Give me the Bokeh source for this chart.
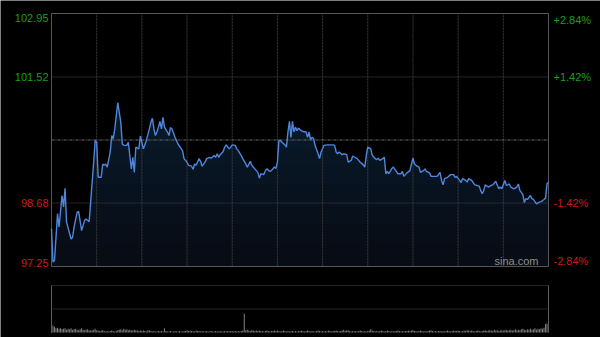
import numpy as np
from bokeh.plotting import figure
from bokeh.models import Range1d
from bokeh.embed import file_html
from bokeh.resources import INLINE
from bokeh.core.properties import value

# ---------------- data ----------------
minutes = [0, 1, 2, 4, 5, 7, 8, 9, 10, 13, 14, 15, 17, 18, 20, 22, 23, 25, 26, 28,
           29, 30, 31, 33, 34, 35, 36, 37, 39, 40, 41, 42, 44, 46, 47, 48, 50, 51, 52, 53,
           54, 55, 56, 58, 59, 61, 63, 65, 66, 67, 68, 69, 70, 71, 72, 73, 74, 75, 77, 78,
           79, 80, 82, 84, 87, 88, 90, 91, 93, 94, 95, 96, 98, 99, 100, 102, 103, 105, 106, 108,
           109, 110, 111, 112, 114, 115, 116, 118, 119, 120, 122, 123, 124, 126, 127, 129, 130, 132, 133, 135,
           137, 138, 139, 141, 142, 143, 145, 146, 148, 149, 150, 151, 152, 153, 155, 156, 157, 158, 159, 160,
           161, 162, 163, 164, 165, 166, 167, 169, 170, 171, 172, 173, 174, 175, 177, 178, 179, 181, 183, 187,
           188, 189, 190, 191, 193, 194, 196, 197, 199, 200, 202, 203, 205, 207, 208, 209, 210, 212, 213, 215,
           216, 217, 218, 220, 221, 222, 223, 224, 226, 227, 228, 230, 232, 233, 234, 236, 238, 239, 240, 241,
           242, 244, 245, 247, 248, 249, 251, 252, 256, 258, 259, 260, 261, 263, 265, 267, 268, 269, 271, 272,
           273, 275, 276, 277, 279, 281, 282, 284, 285, 286, 287, 288, 290, 292, 293, 295, 296, 297, 298, 299,
           301, 302, 303, 304, 305, 307, 309, 310, 311, 312, 313, 314, 315, 316, 318, 319, 320, 322, 324, 325,
           327, 328, 329, 330]

prices = [98.10, 97.35, 97.39, 98.44, 98.14, 98.85, 98.59, 99.01, 98.25, 97.87, 97.91, 98.14, 98.47, 98.49, 98.06, 98.29, 98.32, 98.26, 98.70, 99.60,
          100.09, 100.05, 99.26, 99.26, 99.56, 99.53, 99.56, 99.49, 99.83, 100.20, 100.13, 100.35, 100.94, 100.50, 100.01, 99.98, 99.98, 100.05, 99.75, 99.45,
          99.71, 99.37, 99.94, 99.90, 100.19, 99.90, 100.09, 100.35, 100.50, 100.59, 100.35, 100.20, 100.28, 100.39, 100.52, 100.35, 100.61, 100.39, 100.28, 100.20,
          100.38, 100.35, 100.16, 100.01, 99.86, 99.68, 99.60, 99.53, 99.51, 99.44, 99.56, 99.53, 99.68, 99.62, 99.51, 99.60, 99.68, 99.71, 99.69, 99.75,
          99.71, 99.79, 99.71, 99.77, 99.84, 99.94, 99.99, 99.90, 99.94, 99.99, 99.98, 99.90, 99.86, 99.75, 99.68, 99.56, 99.49, 99.62, 99.53, 99.45,
          99.37, 99.24, 99.34, 99.32, 99.41, 99.45, 99.39, 99.41, 99.49, 99.46, 99.60, 100.09, 100.09, 100.05, 99.99, 99.94, 100.28, 100.52, 100.16, 100.52,
          100.28, 100.39, 100.31, 100.37, 100.33, 100.31, 100.29, 100.28, 100.16, 100.28, 100.11, 100.16, 100.13, 99.98, 99.79, 99.68, 99.83, 99.98, 99.99, 99.99,
          99.98, 99.83, 99.79, 99.83, 99.77, 99.79, 99.77, 99.60, 99.64, 99.74, 99.70, 99.68, 99.60, 99.54, 99.49, 99.75, 99.94, 99.90, 99.75, 99.68,
          99.66, 99.69, 99.64, 99.68, 99.71, 99.34, 99.39, 99.34, 99.46, 99.49, 99.44, 99.34, 99.34, 99.39, 99.28, 99.36, 99.41, 99.56, 99.69, 99.56,
          99.53, 99.49, 99.37, 99.41, 99.45, 99.39, 99.36, 99.28, 99.28, 99.37, 99.19, 99.09, 99.23, 99.26, 99.32, 99.32, 99.26, 99.28, 99.19, 99.14,
          99.23, 99.19, 99.15, 99.23, 99.19, 99.09, 99.08, 99.06, 98.96, 98.89, 98.96, 99.09, 99.04, 99.08, 99.09, 99.17, 99.08, 99.00, 99.04, 99.00,
          99.19, 99.08, 99.09, 99.11, 99.04, 99.00, 99.04, 99.11, 98.96, 98.92, 98.87, 98.69, 98.78, 98.76, 98.85, 98.78, 98.76, 98.66, 98.70, 98.71,
          98.76, 98.79, 99.11, 99.15]

volume = [19, 15, 12, 9, 10, 8, 9, 7, 8, 9, 6, 8, 7, 9, 6, 7, 8, 6, 5, 7, 9, 6, 5, 6, 7, 5, 4, 5, 6, 8,
          5, 4, 3, 4, 5, 3, 2, 3, 2, 3, 4, 3, 2, 3, 5, 6, 7, 5, 8, 6, 7, 5, 6, 5, 4, 6, 5, 4, 3, 4,
          3, 4, 3, 2, 5, 4, 3, 2, 3, 2, 2, 3, 2, 3, 2, 9, 3, 2, 2, 3, 2, 2, 3, 2, 2, 3, 2, 2, 3, 3,
          5, 3, 4, 3, 3, 2, 4, 3, 3, 2, 3, 2, 2, 3, 2, 2, 3, 2, 2, 3, 2, 2, 3, 2, 2, 3, 2, 3, 2, 3,
          3, 2, 3, 2, 3, 2, 3, 4, 40, 5, 6, 4, 3, 5, 4, 3, 4, 3, 4, 3, 3, 2, 3, 4, 3, 2, 3, 3, 4, 3,
          4, 3, 2, 3, 4, 3, 2, 3, 2, 3, 3, 2, 3, 2, 3, 3, 4, 3, 2, 3, 4, 3, 2, 3, 2, 2, 3, 4, 3, 2,
          3, 2, 3, 2, 4, 3, 2, 3, 3, 4, 3, 2, 3, 4, 6, 3, 5, 4, 3, 2, 3, 2, 3, 2, 3, 4, 3, 2, 3, 2,
          3, 4, 7, 4, 3, 2, 3, 2, 3, 4, 3, 2, 3, 4, 3, 2, 3, 2, 3, 3, 4, 3, 2, 3, 2, 3, 3, 4, 3, 4,
          5, 3, 3, 2, 3, 4, 3, 2, 3, 2, 3, 4, 5, 3, 2, 3, 2, 3, 3, 2, 3, 2, 3, 4, 3, 2, 3, 4, 3, 3,
          4, 3, 2, 3, 4, 3, 5, 4, 3, 4, 3, 2, 3, 4, 3, 2, 3, 4, 5, 3, 4, 5, 4, 3, 6, 4, 5, 3, 4, 5,
          4, 5, 6, 4, 5, 6, 4, 5, 7, 5, 6, 5, 7, 8, 6, 5, 7, 6, 8, 6, 7, 9, 6, 8, 7, 9, 8, 10, 18, 19, 57]

session_len = 330
grid_minutes = [30, 60, 90, 120, 150, 180, 210, 240, 270, 300]
price_low, price_mid, price_high = 97.25, 100.10, 102.95
price_grid = [98.68, 101.52]
up_ticks = [102.95, 101.52]
up_left_labels = ["102.95", "101.52"]
up_right_labels = ["+2.84%", "+1.42%"]
down_ticks = [98.68, 97.25]
down_left_labels = ["98.68", "97.25"]
down_right_labels = ["-1.42%", "-1.42%".replace("1.42", "1.42")]
down_right_labels = ["-1.42%", "-2.84%"]
vol_max = 100

# ---------------- layout mapping (canvas pixels) ----------------
W, H = 600, 337
fx0, fx1 = 51, 548          # price/volume frame left/right
fy_top, fy_bot = 13, 266    # price frame top/bottom
vy_top, vy_bot = 285, 332   # volume panel top/bottom

px_per_min = (fx1 - fx0) / session_len
px_per_price = (fy_bot - fy_top) / (price_high - price_low)
px_per_vol = (vy_bot - vy_top) / vol_max

x_range = Range1d(-fx0 / px_per_min, session_len + (W - fx1) / px_per_min)
y_range = Range1d(price_low - (H - fy_bot) / px_per_price, price_high + fy_top / px_per_price)

p = figure(width=W, height=H, x_range=x_range, y_range=y_range,
           output_backend="svg", toolbar_location=None, min_border=0,
           x_axis_location=None, y_axis_location=None,
           background_fill_color="#000000", border_fill_color="#000000",
           outline_line_color=None)
p.grid.visible = False
p.extra_y_ranges = {"vol": Range1d(-(H - vy_bot) / px_per_vol, vol_max + vy_top / px_per_vol)}

x = np.array(minutes, dtype=float)
y = np.array(prices, dtype=float)

# gradient-like fill under the price line
p.varea(x=x, y1=price_low, y2=y, fill_color="#080c14", fill_alpha=1.0)
for lvl in [97.7, 98.2, 98.7, 99.1, 99.5, 99.9, 100.3]:
    p.varea(x=x, y1=lvl, y2=np.maximum(y, lvl), fill_color="#1c3a70", fill_alpha=0.045)

# grid lines
p.segment(x0=grid_minutes, x1=grid_minutes, y0=price_low, y1=price_high,
          line_color="#3c3c3c", line_width=1, line_dash="2 1")
p.segment(x0=0, x1=session_len, y0=price_grid, y1=price_grid,
          line_color="#4a4a4a", line_width=1, line_dash="1 1")
p.segment(x0=0, x1=session_len, y0=price_mid, y1=price_mid,
          line_color="#6a6a6a", line_width=1, line_dash="3 1 1 1")

# price frame border
p.quad(left=0, right=session_len, bottom=price_low, top=price_high,
       fill_color=None, line_color="#555555", line_width=1)

# price line
p.line(x, y, line_color="#4f86dc", line_width=1.4)

# volume panel
p.segment(x0=0, x1=session_len, y0=[vol_max, vol_max / 2], y1=[vol_max, vol_max / 2],
          line_color="#4a4a4a", line_width=1, line_dash="1 1", y_range_name="vol")
p.vbar(x=list(range(len(volume))), top=volume, bottom=0, width=0.7,
       fill_color="#7c7c7c", line_color=None, y_range_name="vol")
p.segment(x0=[0, session_len], x1=[0, session_len], y0=0, y1=vol_max,
          line_color="#5a5a5a", line_width=1, y_range_name="vol")

# labels
font = value("Liberation Sans")
green, red = "#1a9e1a", "#cc1a1a"
p.text(x=0, y=[up_ticks[0]], text=[up_left_labels[0]], text_align="right", text_baseline="top",
       x_offset=-3, text_font=font, text_font_size="11px", text_color=green)
p.text(x=0, y=[up_ticks[1]], text=[up_left_labels[1]], text_align="right", text_baseline="middle",
       x_offset=-3, text_font=font, text_font_size="11px", text_color=green)
p.text(x=0, y=[down_ticks[0]], text=[down_left_labels[0]], text_align="right", text_baseline="middle",
       x_offset=-3, text_font=font, text_font_size="11px", text_color=red)
p.text(x=0, y=[down_ticks[1]], text=[down_left_labels[1]], text_align="right", text_baseline="bottom",
       x_offset=-3, text_font=font, text_font_size="11px", text_color=red)

p.text(x=session_len, y=[up_ticks[0]], text=[up_right_labels[0]], text_align="left", text_baseline="top",
       x_offset=5, text_font=font, text_font_size="11px", text_color=green)
p.text(x=session_len, y=[up_ticks[1]], text=[up_right_labels[1]], text_align="left", text_baseline="middle",
       x_offset=5, text_font=font, text_font_size="11px", text_color=green)
p.text(x=session_len, y=[down_ticks[0]], text=[down_right_labels[0]], text_align="left", text_baseline="middle",
       x_offset=5, text_font=font, text_font_size="11px", text_color=red)
p.text(x=session_len, y=[down_ticks[1]], text=[down_right_labels[1]], text_align="left", text_baseline="bottom",
       x_offset=5, text_font=font, text_font_size="11px", text_color=red)

# watermark
p.text(x=session_len, y=[price_low], text=["sina.com"], text_align="right", text_baseline="bottom",
       x_offset=-10, text_font=font, text_font_size="11px", text_color="#8c8c8c")

open("out.html", "w").write(file_html(p, INLINE))
